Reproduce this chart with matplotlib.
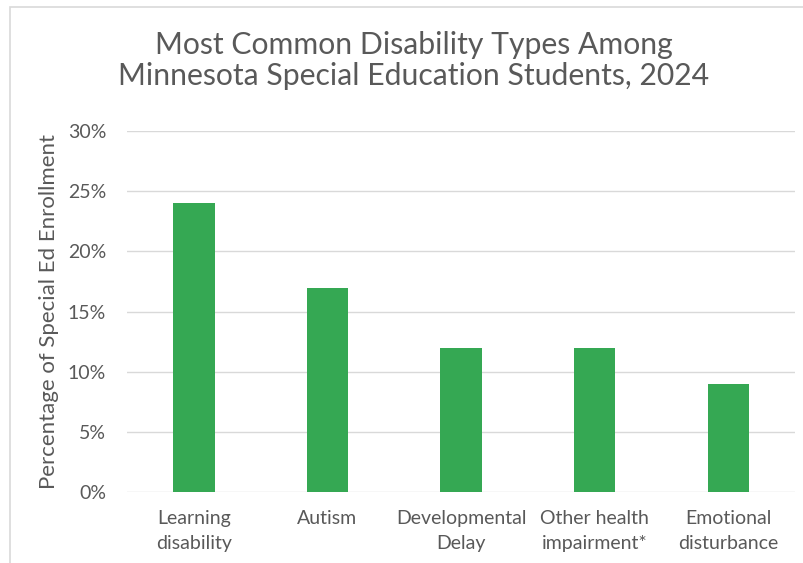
import matplotlib
matplotlib.use("Agg")
import matplotlib.pyplot as plt
from matplotlib.patches import Rectangle
from matplotlib.ticker import PercentFormatter

categories = ["Learning\ndisability", "Autism", "Developmental\nDelay",
              "Other health\nimpairment*", "Emotional\ndisturbance"]
percent = [24, 17, 12, 12, 9]
y_ticks = [0, 5, 10, 15, 20, 25, 30]

TEXT = "#595959"
GREEN = "#35A853"
plt.rcParams["font.family"] = ["Lato", "DejaVu Sans"]

fig = plt.figure(figsize=(8.04, 5.63), dpi=100)
ax = fig.add_axes([0.158, 0.126, 0.831, 0.641])

# light chart border (left/top visible in the reference)
fig.patches.append(Rectangle((10 / 804, -0.05), 1.2, 1.05 - 7 / 563,
                             transform=fig.transFigure, fill=False,
                             edgecolor="#D9D9D9", linewidth=1.2))

x = range(len(categories))
ax.bar(x, percent, width=0.31, color=GREEN, zorder=3)
ax.set_xlim(-0.5, len(categories) - 0.5)
ax.set_ylim(0, 30)
ax.set_yticks(y_ticks)
ax.yaxis.set_major_formatter(PercentFormatter(decimals=0))
ax.set_xticks(list(x))
ax.set_xticklabels(categories, linespacing=1.55)
ax.grid(axis="y", color="#D9D9D9", linewidth=1, zorder=0)
for side in ("top", "right", "left", "bottom"):
    ax.spines[side].set_visible(False)
ax.tick_params(axis="both", length=0, colors=TEXT, labelsize=14)
ax.tick_params(axis="y", pad=15)
ax.tick_params(axis="x", pad=13)
ax.set_ylabel("Percentage of Special Ed Enrollment", color=TEXT, fontsize=16, labelpad=6)

fig.text(0.515, 0.893, "Most Common Disability Types Among\nMinnesota Special Education Students, 2024",
         ha="center", va="center", color=TEXT, fontsize=21.7, linespacing=1.12)

fig.savefig("out.png", dpi=100)
